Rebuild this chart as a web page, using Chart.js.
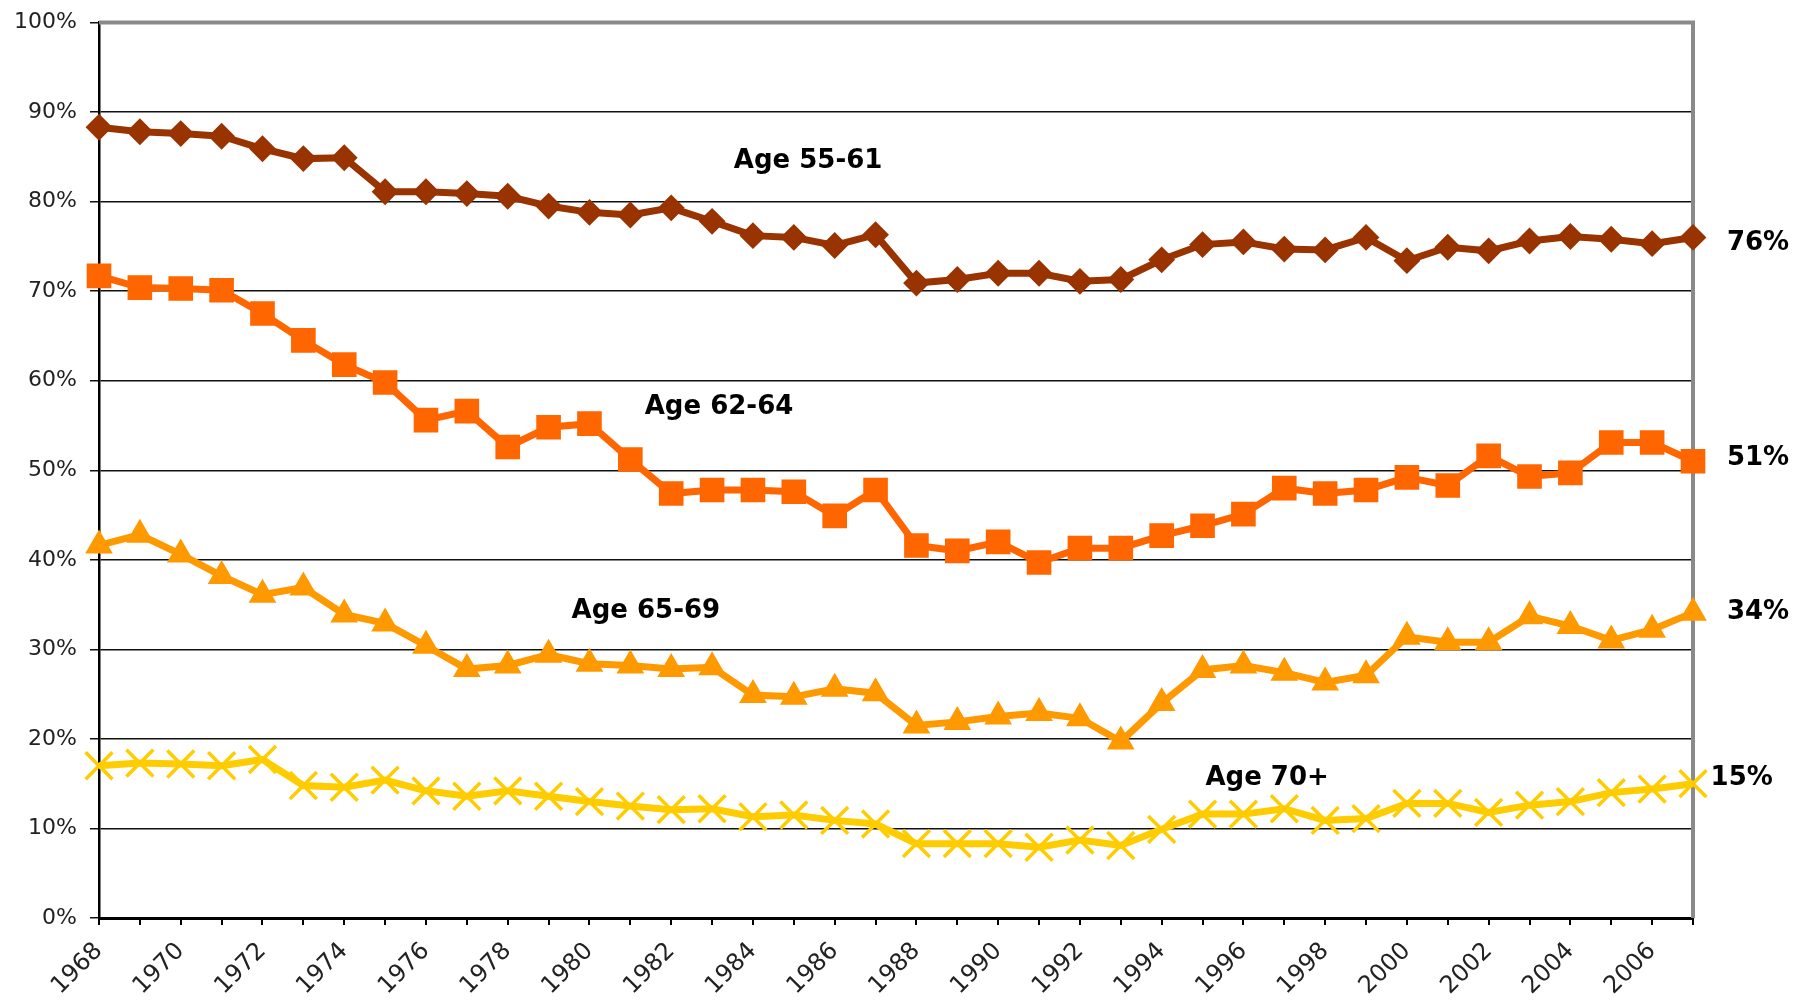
<!DOCTYPE html>
<html>
<head>
<meta charset="utf-8">
<script src="https://cdn.jsdelivr.net/npm/chart.js@4"></script>
<style>
  html, body { margin: 0; padding: 0; background: #fff; }
  #wrap { width: 1810px; height: 1003px; position: relative; }
</style>
</head>
<body>
<div id="wrap"><canvas id="myChart"></canvas></div>
<script>
// 年
const years = [];
for (let y = 1968; y <= 2007; y++) years.push(String(y));

// 就業率 (%)
const age5561 = [88.3, 87.8, 87.6, 87.3, 85.9, 84.8, 84.9, 81.1, 81.1, 80.9,
                 80.6, 79.5, 78.8, 78.5, 79.3, 77.8, 76.2, 76.0, 75.1, 76.3,
                 70.9, 71.3, 72.0, 72.0, 71.1, 71.3, 73.5, 75.2, 75.5, 74.7,
                 74.6, 76.0, 73.4, 74.9, 74.5, 75.6, 76.1, 75.8, 75.3, 76.0];
const age6264 = [71.7, 70.4, 70.3, 70.1, 67.5, 64.5, 61.8, 59.8, 55.6, 56.6,
                 52.6, 54.8, 55.2, 51.2, 47.4, 47.8, 47.8, 47.6, 44.9, 47.8,
                 41.6, 41.0, 42.0, 39.7, 41.3, 41.3, 42.7, 43.8, 45.1, 48.0,
                 47.4, 47.8, 49.2, 48.3, 51.6, 49.3, 49.7, 53.1, 53.1, 51.0];
const age6569 = [41.6, 42.8, 40.6, 38.2, 36.1, 36.9, 33.9, 32.9, 30.4, 27.8,
                 28.2, 29.4, 28.4, 28.2, 27.8, 28.0, 24.9, 24.7, 25.6, 25.1,
                 21.5, 21.9, 22.5, 22.9, 22.3, 19.7, 24.0, 27.7, 28.2, 27.4,
                 26.3, 27.1, 31.4, 30.8, 30.8, 33.7, 32.6, 31.0, 32.2, 34.1];
const age70 = [17.0, 17.3, 17.2, 17.0, 17.7, 14.8, 14.6, 15.4, 14.2, 13.6,
               14.2, 13.6, 13.0, 12.5, 12.1, 12.2, 11.3, 11.5, 10.9, 10.5,
               8.3, 8.3, 8.3, 7.9, 8.7, 8.1, 9.9, 11.6, 11.6, 12.2,
               10.9, 11.1, 12.8, 12.8, 11.8, 12.6, 13.0, 14.0, 14.4, 15.0];

// y軸の目盛り
const yTicks = [0, 10, 20, 30, 40, 50, 60, 70, 80, 90, 100];

// 系列名とラベル
const seriesNames = ['Age 55-61', 'Age 62-64', 'Age 65-69', 'Age 70+'];
const endLabels = ['76%', '51%', '34%', '15%'];

add_line_graph();

/**
 * 折れ線グラフ追加
 */
function add_line_graph() {
  // 注記 (x = 年のインデックス, y = %)
  const notes = [
    { text: seriesNames[0], x: 17.35, y: 84.5, align: 'center' },
    { text: seriesNames[1], x: 15.17, y: 57.0, align: 'center' },
    { text: seriesNames[2], x: 13.38, y: 34.2, align: 'center' },
    { text: seriesNames[3], x: 28.58, y: 15.6, align: 'center' },
    { text: endLabels[0], x: 39.83, y: 75.4, align: 'left' },
    { text: endLabels[1], x: 39.83, y: 51.3, align: 'left' },
    { text: endLabels[2], x: 39.83, y: 34.1, align: 'left' },
    { text: endLabels[3], x: 39.43, y: 15.6, align: 'left' }
  ];

  const framePlugin = {
    id: 'frame',
    beforeDatasetsDraw(chart) {
      const a = chart.chartArea;
      const ctx = chart.ctx;
      ctx.save();
      ctx.strokeStyle = '#8a8a8a';
      ctx.lineWidth = 4;
      ctx.beginPath();
      ctx.moveTo(a.left, a.top);
      ctx.lineTo(a.right, a.top);
      ctx.lineTo(a.right, a.bottom);
      ctx.stroke();
      ctx.restore();
    },
    afterDatasetsDraw(chart) {
      const ctx = chart.ctx;
      const xs = chart.scales.x, ys = chart.scales.y;
      ctx.save();
      ctx.fillStyle = '#000';
      ctx.font = 'bold 26px "DejaVu Sans"';
      ctx.textBaseline = 'middle';
      notes.forEach(n => {
        ctx.textAlign = n.align;
        ctx.fillText(n.text, xs.getPixelForValue(n.x), ys.getPixelForValue(n.y));
      });
      ctx.restore();
    }
  };

  const common = { borderWidth: 7, tension: 0, clip: false, pointBorderWidth: 2, pointHoverRadius: 0 };

  new Chart(
    document.getElementById('myChart').getContext('2d'),
    {
      type: 'line',
      data: {
        labels: years,
        datasets: [
          Object.assign({}, common, {
            label: seriesNames[0], data: age5561,
            borderColor: '#993300', backgroundColor: '#993300',
            pointStyle: 'rectRot', pointRadius: 12
          }),
          Object.assign({}, common, {
            label: seriesNames[1], data: age6264,
            borderColor: '#ff6600', backgroundColor: '#ff6600',
            pointStyle: 'rect', pointRadius: 16
          }),
          Object.assign({}, common, {
            label: seriesNames[2], data: age6569,
            borderColor: '#ff9900', backgroundColor: '#ff9900',
            pointStyle: 'triangle', pointRadius: 14
          }),
          Object.assign({}, common, {
            label: seriesNames[3], data: age70,
            borderColor: '#ffcc00', backgroundColor: '#ffcc00',
            pointStyle: 'crossRot', pointRadius: 19, pointBorderWidth: 3.5
          })
        ]
      },
      plugins: [framePlugin],
      options: {
        responsive: true,
        maintainAspectRatio: false,
        animation: false,
        layout: { padding: { top: 20, right: 117, bottom: 0, left: 0 } },
        plugins: {
          legend: { display: false },
          tooltip: { enabled: false }
        },
        scales: {
          x: {
            offset: false,
            afterFit(scale) { scale.height = 85; },
            grid: { drawOnChartArea: false, drawTicks: true, tickLength: 7, color: '#000', lineWidth: 2 },
            border: { color: '#000', width: 3 },
            ticks: {
              autoSkip: false,
              minRotation: 45,
              maxRotation: 45,
              padding: 12,
              color: '#222',
              font: { family: '"DejaVu Sans"', size: 24 },
              callback: function(value, index) {
                return index % 2 === 0 ? years[index] : '';
              }
            }
          },
          y: {
            min: 0,
            max: 100,
            afterFit(scale) {
              scale.width = 99;
              scale.paddingTop = 10;
              scale.paddingBottom = 10;
            },
            afterBuildTicks(scale) { scale.ticks = yTicks.map(v => ({ value: v })); },
            grid: { color: '#111', lineWidth: 1.5, tickLength: 9 },
            border: { color: '#000', width: 2.5 },
            ticks: {
              padding: 13,
              color: '#222',
              font: { family: '"DejaVu Sans"', size: 22 },
              callback: function(value) { return value + '%'; }
            }
          }
        }
      }
    }
  );
}
</script>
</body>
</html>
